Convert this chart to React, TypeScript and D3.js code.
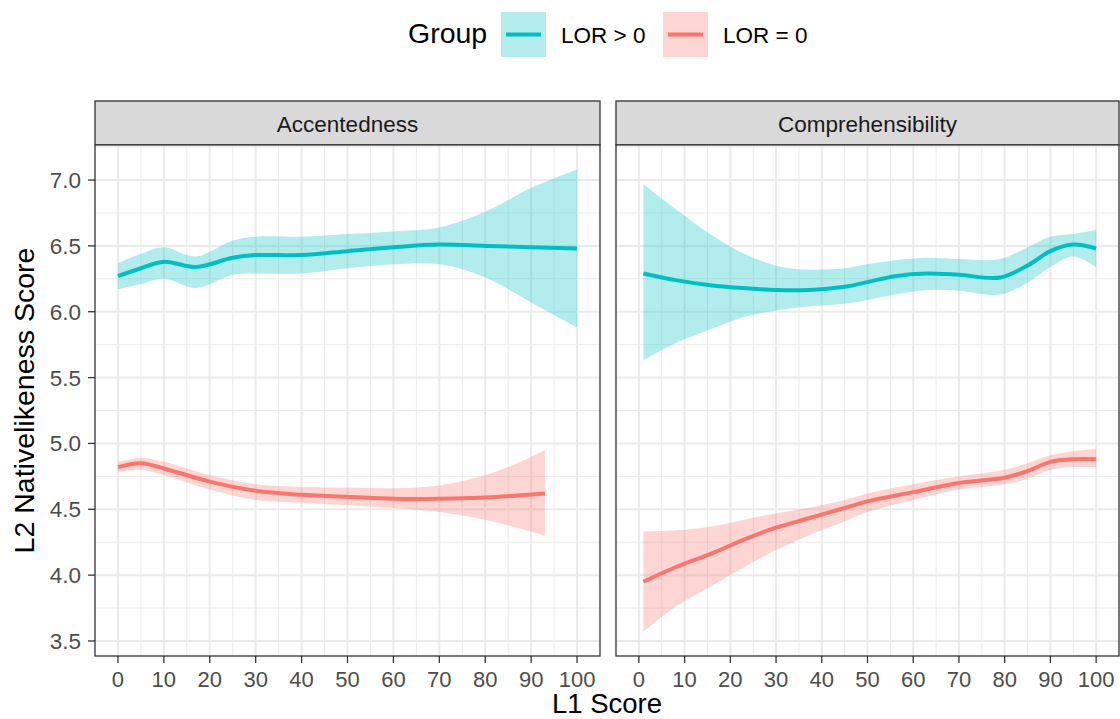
import React from 'react';
import * as d3 from 'd3';

// facet names and legend groups
const facets = ['Accentedness', 'Comprehensibility'];
const groups = ['LOR > 0', 'LOR = 0'];
const groupColors = ['#00BFC4', '#F8766D'];

const xTicks = [0, 10, 20, 30, 40, 50, 60, 70, 80, 90, 100];
const yTicks = [3.5, 4.0, 4.5, 5.0, 5.5, 6.0, 6.5, 7.0];

// Accentedness, LOR > 0
const accHiX = [0, 5, 10, 17, 25, 30, 40, 50, 60, 70, 80, 90, 100];
const accHiFit = [6.27, 6.33, 6.38, 6.34, 6.41, 6.43, 6.43, 6.46, 6.49, 6.51, 6.5, 6.49, 6.48];
const accHiUp = [6.37, 6.44, 6.49, 6.42, 6.54, 6.57, 6.57, 6.59, 6.61, 6.64, 6.76, 6.94, 7.08];
const accHiLo = [6.17, 6.21, 6.25, 6.18, 6.28, 6.29, 6.29, 6.33, 6.36, 6.36, 6.26, 6.07, 5.88];

// Accentedness, LOR = 0
const accZeroX = [0, 5, 10, 20, 30, 40, 50, 60, 70, 80, 87, 93];
const accZeroFit = [4.82, 4.85, 4.81, 4.71, 4.64, 4.61, 4.595, 4.58, 4.58, 4.59, 4.605, 4.62];
const accZeroUp = [4.86, 4.89, 4.86, 4.76, 4.69, 4.67, 4.665, 4.66, 4.68, 4.76, 4.85, 4.95];
const accZeroLo = [4.78, 4.8, 4.76, 4.65, 4.57, 4.55, 4.53, 4.51, 4.48, 4.42, 4.36, 4.3];

// Comprehensibility, LOR > 0
const compHiX = [1, 8, 16, 23, 30, 37, 45, 50, 56, 63, 70, 79, 85, 90, 95, 100];
const compHiFit = [6.29, 6.24, 6.2, 6.18, 6.165, 6.165, 6.19, 6.225, 6.27, 6.29, 6.28, 6.26, 6.35, 6.46, 6.51, 6.48];
const compHiUp = [6.97, 6.78, 6.58, 6.44, 6.35, 6.32, 6.33, 6.36, 6.39, 6.41, 6.4, 6.4, 6.49, 6.57, 6.59, 6.62];
const compHiLo = [5.63, 5.76, 5.87, 5.96, 6.01, 6.04, 6.06, 6.09, 6.13, 6.165, 6.16, 6.13, 6.22, 6.34, 6.42, 6.34];

// Comprehensibility, LOR = 0
const compZeroX = [1, 8, 16, 23, 30, 37, 45, 50, 60, 70, 80, 85, 90, 95, 100];
const compZeroFit = [3.95, 4.06, 4.165, 4.27, 4.36, 4.43, 4.51, 4.56, 4.63, 4.7, 4.74, 4.79, 4.86, 4.88, 4.88];
const compZeroUp = [4.33, 4.34, 4.37, 4.42, 4.47, 4.51, 4.57, 4.62, 4.69, 4.75, 4.8, 4.85, 4.91, 4.94, 4.96];
const compZeroLo = [3.57, 3.76, 3.92, 4.06, 4.19, 4.3, 4.41, 4.48, 4.57, 4.65, 4.69, 4.73, 4.8, 4.82, 4.82];

const seriesByFacet = [
  [
    { x: accHiX, fit: accHiFit, up: accHiUp, lo: accHiLo, g: 0 },
    { x: accZeroX, fit: accZeroFit, up: accZeroUp, lo: accZeroLo, g: 1 },
  ],
  [
    { x: compHiX, fit: compHiFit, up: compHiUp, lo: compHiLo, g: 0 },
    { x: compZeroX, fit: compZeroFit, up: compZeroUp, lo: compZeroLo, g: 1 },
  ],
];

const W = 1120;
const H = 719;
const font = '"Liberation Sans", Arial, Helvetica, sans-serif';
const panelTop = 145;
const panelBottom = 656;
const stripTop = 101;
const panelX = [
  [95, 600],
  [616, 1119],
];

const App = () => {
  const y = d3.scaleLinear().domain([3.386, 7.266]).range([panelBottom, panelTop]);
  const yMinor = d3.range(3.25, 7.5, 0.5).filter((v) => v > 3.386 && v < 7.266);
  const xMinor = d3.range(5, 100, 10);

  return (
    <svg width={W} height={H} style={{ position: 'absolute', left: 0, top: 0, background: '#fff' }} fontFamily={font}>
      {/* legend */}
      <text x={408} y={43} fontSize={28.5} fill="#000">Group</text>
      {groups.map((g, i) => {
        const kx = i === 0 ? 501 : 663;
        return (
          <g key={g}>
            <rect x={kx} y={12} width={45} height={45} fill={groupColors[i]} fillOpacity={0.3} />
            <line x1={kx + 5} x2={kx + 40} y1={34.5} y2={34.5} stroke={groupColors[i]} strokeWidth={4} />
            <text x={kx + 60} y={43} fontSize={22.5} fill="#000">{g}</text>
          </g>
        );
      })}

      {facets.map((name, fi) => {
        const [px0, px1] = panelX[fi];
        const x = d3.scaleLinear().domain([-5, 105]).range([px0, px1]);
        return (
          <g key={name}>
            {/* strip */}
            <rect x={px0} y={stripTop} width={px1 - px0} height={panelTop - stripTop} fill="#d9d9d9" stroke="#333" strokeWidth={1.3} />
            <text x={(px0 + px1) / 2} y={132} textAnchor="middle" fontSize={22.5} fill="#1a1a1a">{name}</text>

            {/* grid */}
            <rect x={px0} y={panelTop} width={px1 - px0} height={panelBottom - panelTop} fill="#fff" />
            {yMinor.map((v) => (
              <line key={'ym' + v} x1={px0} x2={px1} y1={y(v)} y2={y(v)} stroke="#ebebeb" strokeWidth={1} />
            ))}
            {xMinor.map((v) => (
              <line key={'xm' + v} x1={x(v)} x2={x(v)} y1={panelTop} y2={panelBottom} stroke="#ebebeb" strokeWidth={1} />
            ))}
            {yTicks.map((v) => (
              <line key={'yM' + v} x1={px0} x2={px1} y1={y(v)} y2={y(v)} stroke="#ebebeb" strokeWidth={2} />
            ))}
            {xTicks.map((v) => (
              <line key={'xM' + v} x1={x(v)} x2={x(v)} y1={panelTop} y2={panelBottom} stroke="#ebebeb" strokeWidth={2} />
            ))}

            {/* ribbons and fits */}
            {seriesByFacet[fi].map((s) => {
              const pts = s.x.map((xv, i) => ({ x: xv, fit: s.fit[i], up: s.up[i], lo: s.lo[i] }));
              const area = d3
                .area<any>()
                .curve(d3.curveCatmullRom)
                .x((d) => x(d.x))
                .y0((d) => y(d.lo))
                .y1((d) => y(d.up));
              const fitLine = d3
                .line<any>()
                .curve(d3.curveCatmullRom)
                .x((d) => x(d.x))
                .y((d) => y(d.fit));
              return (
                <g key={s.g}>
                  <path d={area(pts) || ''} fill={groupColors[s.g]} fillOpacity={0.3} />
                  <path d={fitLine(pts) || ''} fill="none" stroke={groupColors[s.g]} strokeWidth={4} />
                </g>
              );
            })}

            <rect x={px0} y={panelTop} width={px1 - px0} height={panelBottom - panelTop} fill="none" stroke="#333" strokeWidth={1.3} />

            {/* x axis */}
            {xTicks.map((v) => (
              <g key={'xt' + v}>
                <line x1={x(v)} x2={x(v)} y1={panelBottom} y2={panelBottom + 7} stroke="#333" strokeWidth={1.3} />
                <text x={x(v)} y={687} textAnchor="middle" fontSize={22} fill="#4d4d4d">{v}</text>
              </g>
            ))}

            {/* y axis on first panel only */}
            {fi === 0 &&
              yTicks.map((v) => (
                <g key={'yt' + v}>
                  <line x1={px0 - 7} x2={px0} y1={y(v)} y2={y(v)} stroke="#333" strokeWidth={1.3} />
                  <text x={px0 - 14} y={y(v) + 8} textAnchor="end" fontSize={22.5} fill="#4d4d4d">{v.toFixed(1)}</text>
                </g>
              ))}
          </g>
        );
      })}

      {/* axis titles */}
      <text x={607} y={713} textAnchor="middle" fontSize={27.5} fill="#000">L1 Score</text>
      <text
        transform={`translate(34,${(panelTop + panelBottom) / 2}) rotate(-90)`}
        textAnchor="middle"
        fontSize={28.5}
        fill="#000"
      >
        L2 Nativelikeness Score
      </text>
    </svg>
  );
};

export default App;
